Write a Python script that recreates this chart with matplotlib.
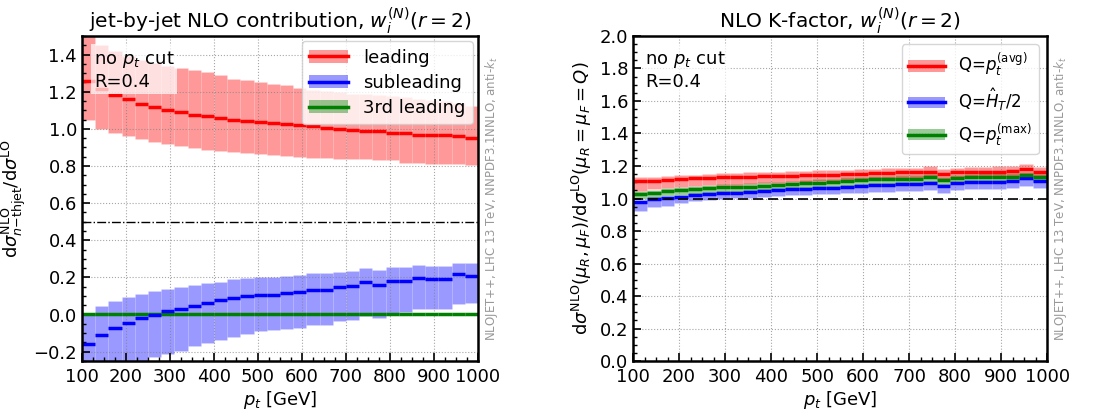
import numpy as np
import matplotlib
matplotlib.use("Agg")
import matplotlib.pyplot as plt
from matplotlib.patches import Patch
from matplotlib.lines import Line2D
from matplotlib.ticker import MultipleLocator

# pt bins [GeV]
edges = np.linspace(100, 1000, 31)

# ---- left panel: jet-by-jet NLO contribution ----
lead_c = [1.256, 1.216, 1.18, 1.16, 1.135, 1.12, 1.10, 1.09, 1.077, 1.068,
          1.058, 1.049, 1.042, 1.035, 1.03, 1.025, 1.02, 1.013, 1.005, 1.0,
          0.995, 0.986, 0.99, 0.978, 0.977, 0.968, 0.968, 0.966, 0.96, 0.952]
lead_hi = [1.55, 1.45, 1.42, 1.39, 1.37, 1.355, 1.34, 1.33, 1.315, 1.305,
           1.29, 1.27, 1.265, 1.25, 1.24, 1.235, 1.22, 1.21, 1.205, 1.20,
           1.19, 1.185, 1.18, 1.175, 1.17, 1.16, 1.155, 1.15, 1.14, 1.125]
lead_lo = [1.045, 1.0, 0.98, 0.96, 0.944, 0.93, 0.917, 0.908, 0.895, 0.886,
           0.88, 0.874, 0.87, 0.865, 0.86, 0.854, 0.85, 0.845, 0.845, 0.838,
           0.838, 0.836, 0.832, 0.832, 0.818, 0.818, 0.813, 0.813, 0.813, 0.805]

sub_c = [-0.159, -0.11, -0.072, -0.045, -0.018, -0.004, 0.02, 0.031, 0.047, 0.063,
         0.076, 0.09, 0.098, 0.104, 0.108, 0.117, 0.124, 0.135, 0.135, 0.15,
         0.155, 0.178, 0.16, 0.182, 0.182, 0.198, 0.193, 0.193, 0.22, 0.21]
sub_hi = [0.005, 0.045, 0.072, 0.094, 0.11, 0.126, 0.14, 0.148, 0.16, 0.171,
          0.178, 0.189, 0.196, 0.202, 0.205, 0.209, 0.212, 0.222, 0.222, 0.231,
          0.236, 0.252, 0.241, 0.254, 0.258, 0.265, 0.263, 0.263, 0.28, 0.277]
sub_lo = [-0.40, -0.35, -0.32, -0.29, -0.26, -0.23, -0.213, -0.195, -0.171, -0.153,
          -0.137, -0.119, -0.105, -0.09, -0.085, -0.079, -0.074, -0.054, -0.054, -0.036,
          -0.029, -0.007, -0.018, 0.011, 0.016, 0.032, 0.029, 0.029, 0.055, 0.06]

third_c = [0.003] * 30
third_hi = [0.007] * 30
third_lo = [-0.001] * 30

# ---- right panel: NLO K-factor ----
avg_c = [1.108, 1.11, 1.116, 1.122, 1.124, 1.128, 1.13, 1.13, 1.134, 1.138,
         1.138, 1.14, 1.143, 1.145, 1.147, 1.15, 1.152, 1.155, 1.157, 1.16,
         1.16, 1.165, 1.15, 1.16, 1.163, 1.165, 1.165, 1.167, 1.18, 1.165]
avg_hi = [1.13, 1.133, 1.138, 1.145, 1.147, 1.152, 1.155, 1.155, 1.16, 1.163,
          1.163, 1.167, 1.17, 1.173, 1.175, 1.178, 1.18, 1.183, 1.186, 1.19,
          1.19, 1.197, 1.18, 1.19, 1.194, 1.196, 1.197, 1.198, 1.21, 1.195]
avg_lo = [1.048, 1.057, 1.065, 1.073, 1.077, 1.082, 1.085, 1.086, 1.09, 1.095,
          1.096, 1.099, 1.102, 1.105, 1.108, 1.111, 1.113, 1.117, 1.12, 1.123,
          1.124, 1.13, 1.115, 1.126, 1.13, 1.132, 1.133, 1.135, 1.148, 1.132]

ht_c = [0.977, 0.995, 1.003, 1.011, 1.019, 1.026, 1.032, 1.036, 1.04, 1.046,
        1.052, 1.056, 1.06, 1.062, 1.066, 1.073, 1.075, 1.081, 1.083, 1.087,
        1.087, 1.093, 1.077, 1.093, 1.103, 1.103, 1.104, 1.107, 1.125, 1.11]
ht_hi = [0.99, 1.007, 1.015, 1.023, 1.031, 1.038, 1.044, 1.048, 1.052, 1.058,
         1.064, 1.068, 1.072, 1.074, 1.078, 1.085, 1.087, 1.093, 1.095, 1.099,
         1.099, 1.105, 1.089, 1.105, 1.115, 1.115, 1.116, 1.119, 1.137, 1.122]
ht_lo = [0.923, 0.95, 0.955, 0.97, 0.982, 0.99, 0.998, 1.002, 1.006, 1.011,
         1.016, 1.02, 1.023, 1.025, 1.028, 1.033, 1.035, 1.04, 1.042, 1.045,
         1.046, 1.05, 1.036, 1.05, 1.058, 1.058, 1.06, 1.062, 1.075, 1.065]

max_c = [1.026, 1.032, 1.046, 1.052, 1.056, 1.062, 1.068, 1.068, 1.073, 1.079,
         1.083, 1.087, 1.093, 1.097, 1.103, 1.11, 1.112, 1.117, 1.119, 1.122,
         1.122, 1.13, 1.114, 1.126, 1.13, 1.134, 1.134, 1.135, 1.145, 1.132]
max_hi = [1.046, 1.052, 1.066, 1.072, 1.076, 1.082, 1.088, 1.088, 1.093, 1.099,
          1.103, 1.107, 1.113, 1.117, 1.123, 1.13, 1.132, 1.137, 1.139, 1.142,
          1.142, 1.15, 1.134, 1.146, 1.15, 1.154, 1.154, 1.155, 1.165, 1.152]
max_lo = [1.0, 1.005, 1.018, 1.024, 1.027, 1.033, 1.038, 1.038, 1.043, 1.048,
          1.052, 1.056, 1.062, 1.066, 1.071, 1.078, 1.08, 1.085, 1.087, 1.09,
          1.09, 1.098, 1.082, 1.094, 1.098, 1.102, 1.102, 1.103, 1.112, 1.1]

plt.rcParams['font.size'] = 13

fig = plt.figure(figsize=(11, 4.19), dpi=100)
ax1 = fig.add_axes([0.0745, 0.1384, 0.36, 0.7757])
ax2 = fig.add_axes([0.5755, 0.1384, 0.3764, 0.7757])


def band(ax, c, lo, hi, color):
    lo = np.array(lo)
    hi = np.array(hi)
    ax.bar(edges[:-1], hi - lo, bottom=lo, width=np.diff(edges), align='edge',
           color=matplotlib.colors.to_rgba(color, 0.4),
           edgecolor=(1, 1, 1, 0.15), linewidth=0.6)
    ax.hlines(c, edges[:-1], edges[1:], colors=color, lw=2.5)


def handle(color):
    return (Patch(facecolor=matplotlib.colors.to_rgba(color, 0.4), edgecolor='none'),
            Line2D([], [], color=color, lw=2.5))


def style(ax):
    ax.set_xlim(100, 1000)
    ax.xaxis.set_major_locator(MultipleLocator(100))
    ax.xaxis.set_minor_locator(MultipleLocator(25))
    ax.yaxis.set_major_locator(MultipleLocator(0.2))
    ax.yaxis.set_minor_locator(MultipleLocator(0.05))
    ax.tick_params(which='both', direction='in', top=False, right=False)
    ax.tick_params(which='major', length=6, width=1.2, labelsize=13)
    ax.tick_params(which='minor', length=3, width=1)
    ax.tick_params(axis='x', which='major', pad=5)
    for s in ax.spines.values():
        s.set_linewidth(1.8)
    ax.grid(ls=':', color='gray', alpha=0.7)
    ax.set_xlabel('$p_t$ [GeV]', fontsize=13, labelpad=2)
    ax.text(0.03, 0.96, 'no $p_t$ cut\nR=0.4', transform=ax.transAxes, va='top',
            fontsize=13, bbox=dict(facecolor='white', alpha=0.7, edgecolor='none', pad=2))
    ax.text(1.012, 0.5, 'NLOJET++, LHC 13 TeV, NNPDF3.1NNLO, anti-$k_t$',
            transform=ax.transAxes, rotation=90, va='center', ha='left',
            fontsize=8.5, color='#999999')


# left
band(ax1, third_c, third_lo, third_hi, 'green')
band(ax1, sub_c, sub_lo, sub_hi, 'blue')
band(ax1, lead_c, lead_lo, lead_hi, 'red')
ax1.axhline(0.5, color='black', ls='-.', lw=1)
style(ax1)
ax1.set_ylim(-0.25, 1.5)
ax1.set_ylabel(r'd$\sigma^{\rm NLO}_{n\mathrm{-thjet}}$/d$\sigma^{\rm LO}$', fontsize=13)
ax1.set_title(r'jet-by-jet NLO contribution, $w_i^{(N)}(r=2)$', fontsize=14.5)
ax1.legend([handle('red'), handle('blue'), handle('green')],
           ['leading', 'subleading', '3rd leading'], loc='upper right',
           handlelength=2.2, framealpha=0.8, fontsize=13, labelspacing=0.4,
           borderaxespad=0.3)

# right
band(ax2, ht_c, ht_lo, ht_hi, 'blue')
band(ax2, max_c, max_lo, max_hi, 'green')
band(ax2, avg_c, avg_lo, avg_hi, 'red')
ax2.axhline(1.0, color='black', ls='--', lw=1.2, dashes=(6, 3))
style(ax2)
ax2.set_ylim(0, 2)
ax2.set_ylabel(r'd$\sigma^{\rm NLO}(\mu_R,\mu_F)$/d$\sigma^{\rm LO}(\mu_R=\mu_F=Q)$', fontsize=13)
ax2.set_title(r'NLO K-factor, $w_i^{(N)}(r=2)$', fontsize=14.5)
ax2.legend([handle('red'), handle('blue'), handle('green')],
           [r'Q=$p_t^{\rm (avg)}$', r'Q=$\hat{H}_T/2$', r'Q=$p_t^{\rm (max)}$'],
           loc='upper right', handlelength=2.2, labelspacing=0.45, framealpha=0.8,
           fontsize=12)

fig.savefig('out.png', dpi=100)
